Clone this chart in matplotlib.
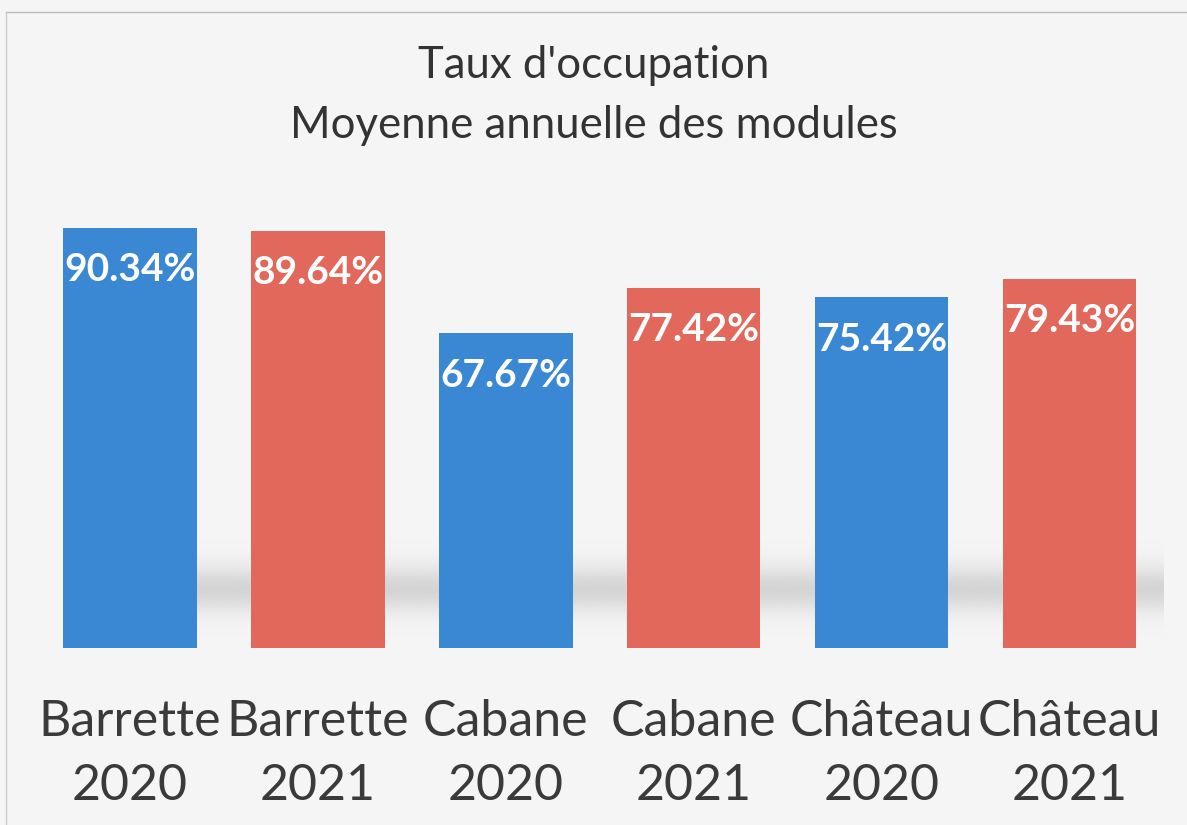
import numpy as np
import matplotlib.pyplot as plt

categories = ["Barrette\n2020", "Barrette\n2021", "Cabane\n2020",
              "Cabane\n2021", "Château\n2020", "Château\n2021"]
values = [90.34, 89.64, 67.67, 77.42, 75.42, 79.43]
years = ["2020", "2021", "2020", "2021", "2020", "2021"]
year_colors = {"2020": "#3a88d4", "2021": "#e2685b"}

plt.rcParams["font.family"] = ["Lato", "DejaVu Sans"]

fig = plt.figure(figsize=(11.87, 8.25), dpi=100, facecolor="#f5f5f5")
ax = fig.add_axes([0.0303, 0.2145, 0.950, 0.5636])
ax.set_facecolor("none")

x = np.arange(len(values))
ax.set_xlim(-0.5, len(values) - 0.5)
ax.set_ylim(0, 100)

# soft shadow band behind the bars
grad = np.linspace(0, 1, 300)
alpha = np.exp(-((grad - 0.45) / 0.17) ** 2)
shadow = np.zeros((300, 1, 4))
shadow[..., :3] = 0.6
shadow[:, 0, 3] = alpha * 0.35
ax.imshow(shadow, extent=(-0.25, len(values) - 0.3, 0, 28), aspect="auto",
          origin="lower", zorder=1, interpolation="bicubic")

colors = [year_colors[y] for y in years]
bars = ax.bar(x, values, width=0.71, color=colors, zorder=2)

for bar, v in zip(bars, values):
    ax.annotate(f"{v:.2f}%", (bar.get_x() + bar.get_width() / 2, v),
                xytext=(0, -30), textcoords="offset points",
                ha="center", va="center", color="white",
                fontsize=28, fontweight="bold", zorder=3)

ax.set_xticks(x)
ax.set_xticklabels(categories, fontsize=36, color="#3a3a3a", linespacing=1.48)
ax.tick_params(axis="x", length=0, pad=37)
ax.set_yticks([])
for s in ax.spines.values():
    s.set_visible(False)

fig.text(0.5, 0.921, "Taux d'occupation", ha="center", va="center",
         fontsize=31.5, color="#333333")
fig.text(0.5, 0.848, "Moyenne annuelle des modules", ha="center", va="center",
         fontsize=31.5, color="#333333")

# thin scan border
fig.add_artist(plt.Line2D([0.005, 1], [0.985, 0.985], color="#bbbbbb", lw=1))
fig.add_artist(plt.Line2D([0.005, 0.005], [0, 0.985], color="#cccccc", lw=1))

fig.savefig("out.png", dpi=100, facecolor=fig.get_facecolor())
